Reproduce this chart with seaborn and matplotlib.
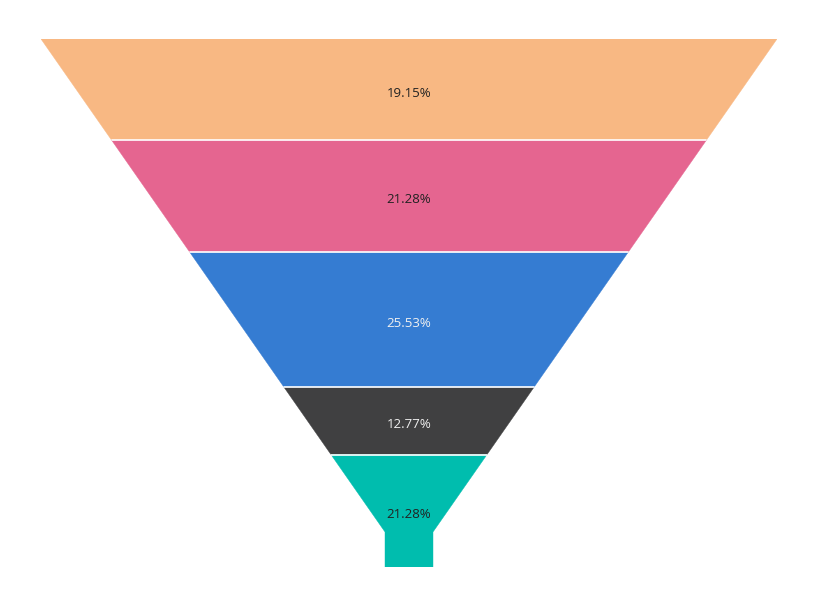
import numpy as np
import matplotlib
matplotlib.use("Agg")
import matplotlib.pyplot as plt
import seaborn as sns

# funnel stages, top to bottom
values = [9, 10, 12, 6, 10]
labels = ["19.15%", "21.28%", "25.53%", "12.77%", "21.28%"]
colors = ["#F8B883", "#E56590", "#357CD2", "#404041", "#00BDAE"]
text_colors = ["#222222", "#222222", "#F0F0F0", "#F0F0F0", "#222222"]

NECK_W = 48 / 736   # fraction of funnel width
NECK_H = 35 / 528   # fraction of funnel height

sns.set_theme(style="white")
plt.rcParams["font.family"] = ["Open Sans", "DejaVu Sans"]

fig = plt.figure(figsize=(8.18, 6.0), dpi=100)
ax = fig.add_axes([41 / 818, 33 / 600, 736 / 818, 528 / 600])

total = float(sum(values))
slope = (0.5 - NECK_W / 2) / (1 - NECK_H)
neck_top = 1 - NECK_H


def half_width(y):
    return max(0.5 - slope * y, NECK_W / 2)


start = 0.0
for val, lab, col, tc in zip(values, labels, colors, text_colors):
    y0 = start / total
    y1 = (start + val) / total
    ys = [y0]
    if y0 < neck_top < y1:
        ys.append(neck_top)
    ys.append(y1)
    right = [(half_width(y), y) for y in ys]
    left = [(-half_width(y), y) for y in reversed(ys)]
    pts = np.array(right + left)
    ax.fill(pts[:, 0], pts[:, 1], facecolor=col, edgecolor=col, linewidth=0.3)
    ax.text(0, (y0 + y1) / 2 + 0.007, lab, ha="center", va="center",
            fontsize=9.5, color=tc)
    start += val

# thin white separators between stages
cum = np.cumsum(values)[:-1] / total
for y in cum:
    hw = half_width(y)
    ax.plot([-hw, hw], [y, y], color="white", linewidth=1.2)

ax.set_xlim(-0.5, 0.5)
ax.set_ylim(1, 0)
ax.axis("off")

fig.savefig("out.png", dpi=100, facecolor="white")
